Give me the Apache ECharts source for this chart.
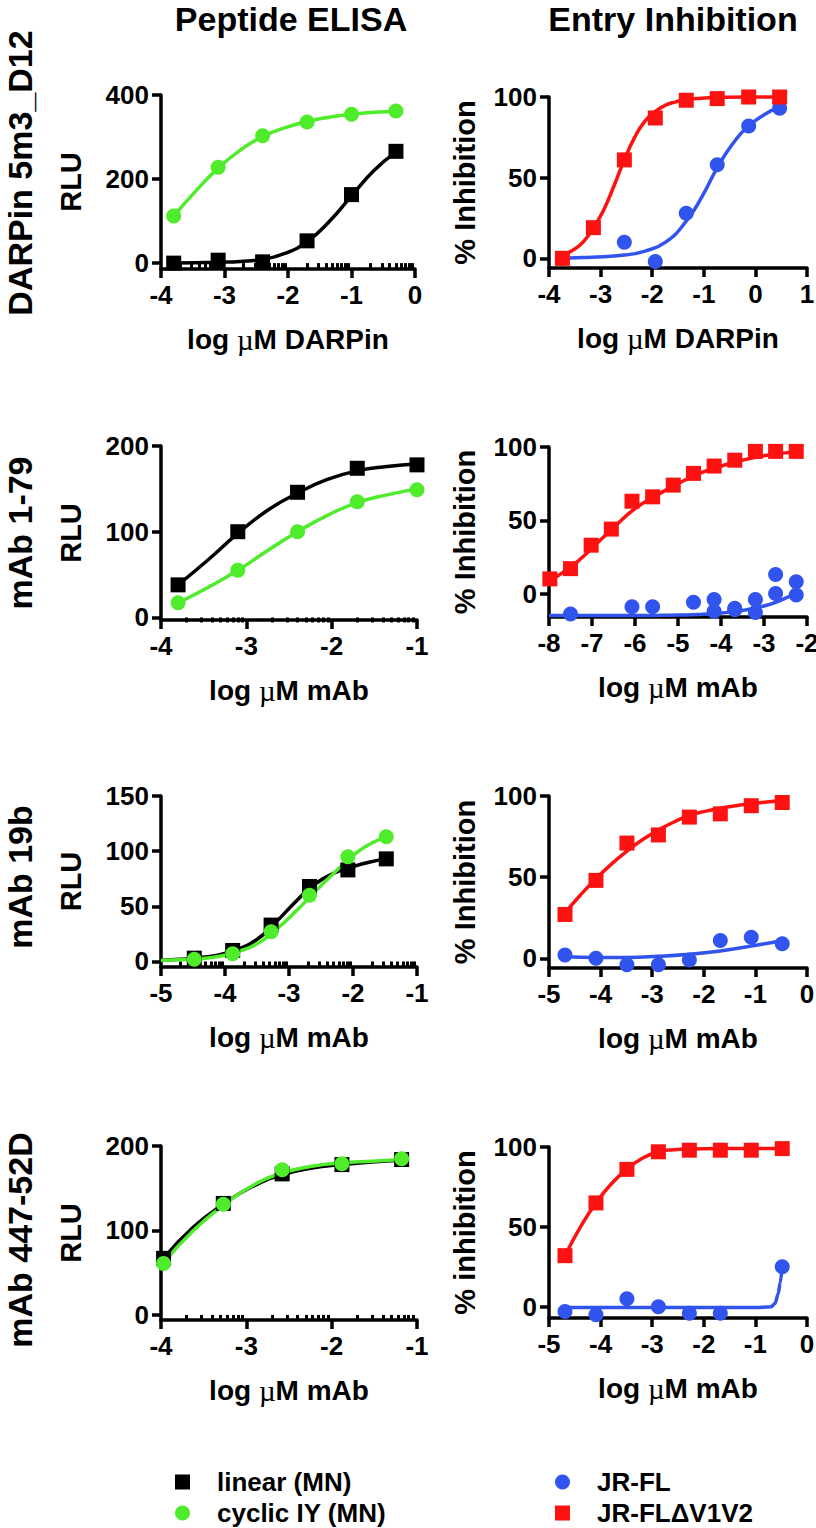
<!DOCTYPE html>
<html><head><meta charset="utf-8">
<script src="https://cdn.jsdelivr.net/npm/echarts@6/dist/echarts.min.js"></script>
<style>html,body{margin:0;padding:0;background:#fff}#c{width:816px;height:1528px}</style>
</head><body><div id="c"></div>
<script>
// ---------- DATA ----------
// Panel 1: DARPin 5m3_D12 – Peptide ELISA
const darpElisaX = [-3.8, -3.1, -2.4, -1.7, -1.0, -0.3];
const darpElisaLinear = [0, 7, 3, 53, 163, 266];
const darpElisaCyclic = [112, 228, 303, 336, 354, 362];
const darpElisaFitX = [-3.8, -3.45, -3.1, -2.75, -2.4, -2.05, -1.7, -1.35, -1.0, -0.65, -0.3];
const darpElisaLinearFit = [0, 1, 2, 4, 9, 23, 51, 99, 160, 220, 264];
const darpElisaCyclicFit = [112, 172, 226, 269, 301, 322, 337, 347, 354, 359, 361];
const darpElisaYTicks = [0, 200, 400];

// Panel 2: DARPin 5m3_D12 – Entry Inhibition
const darpEntryX = [-3.74, -3.14, -2.54, -1.94, -1.34, -0.74, -0.13, 0.47];
const darpEntryDV1V2 = [0, 19, 61, 87, 98, 99, 100, 100];
const darpEntryJRFLX = [-3.74, -2.54, -1.94, -1.34, -0.74, -0.13, 0.47];
const darpEntryJRFL = [0, 10, -2, 28, 58, 82, 93];
const darpEntryDV1V2FitX = [-3.74, -3.54, -3.34, -3.14, -2.94, -2.74, -2.54, -2.34, -2.14, -1.94, -1.74, -1.54, -1.34, -1.04, -0.74, -0.13, 0.47];
const darpEntryDV1V2Fit = [2, 5, 10, 19, 30, 45, 61, 75, 85, 91, 95, 97, 98.5, 99.3, 99.7, 100, 100];
const darpEntryJRFLFitX = [-3.74, -3.34, -2.94, -2.54, -2.14, -1.74, -1.34, -1.04, -0.74, -0.44, -0.13, 0.17, 0.47];
const darpEntryJRFLFit = [0, 0.5, 1, 2, 4.5, 10, 23, 38, 56, 71, 82, 89, 94];
const entryYTicks = [0, 50, 100];

// Panel 3: mAb 1-79 – Peptide ELISA
const mab179ElisaX = [-3.8, -3.1, -2.4, -1.7, -1.0];
const mab179ElisaLinear = [38, 100, 146, 174, 178];
const mab179ElisaCyclic = [17, 55, 100, 135, 149];
const mab179ElisaFitX = [-3.8, -3.45, -3.1, -2.75, -2.4, -2.05, -1.7, -1.35, -1.0];
const mab179ElisaLinearFit = [38, 67, 98, 125, 145, 161, 171, 176, 179];
const mab179ElisaCyclicFit = [17, 35, 55, 78, 100, 119, 134, 143, 150];
const mab179ElisaYTicks = [0, 100, 200];

// Panel 4: mAb 1-79 – Entry Inhibition
const mab179EntryX = [-7.98, -7.5, -7.02, -6.55, -6.07, -5.59, -5.11, -4.64, -4.16, -3.68, -3.2, -2.73, -2.25];
const mab179EntryDV1V2 = [10, 17, 33, 44, 63, 66, 74, 82, 87, 91, 97, 97, 97];
const mab179EntryJRFLX = [-7.5, -6.07, -5.59, -4.64, -4.16, -4.16, -3.68, -3.68, -3.2, -3.2, -2.73, -2.73, -2.25, -2.25];
const mab179EntryJRFL = [-14, -9, -9, -6, -4, -12, -10, -11, -4, -13, 13, 0, 8, -1];
const mab179EntryDV1V2FitX = [-7.98, -7.5, -7.0, -6.5, -6.0, -5.5, -5.0, -4.5, -4.0, -3.5, -3.0, -2.5, -2.25];
const mab179EntryDV1V2Fit = [9, 18, 31, 45, 58, 67, 75, 82, 87, 91, 94, 96, 97];
const mab179EntryJRFLFitX = [-8, -7.5, -7, -6.5, -6, -5.5, -5, -4.5, -4, -3.5, -3.0, -2.6, -2.25];
const mab179EntryJRFLFit = [-15, -15, -15, -15, -15, -14.9, -14.7, -14.3, -13.3, -11.5, -8.5, -4.5, 0.5];

// Panel 5: mAb 19b – Peptide ELISA
const mab19bElisaX = [-4.48, -3.88, -3.28, -2.68, -2.08, -1.48];
const mab19bElisaLinear = [3, 10, 33, 68, 83, 93];
const mab19bElisaCyclic = [2, 7, 27, 60, 95, 113];
const mab19bElisaFitX = [-5, -4.7, -4.4, -4.1, -3.8, -3.5, -3.2, -2.9, -2.6, -2.3, -2.0, -1.75, -1.48];
const mab19bElisaLinearFit = [1, 2, 3.5, 6, 11, 20, 36, 54, 70, 80, 86, 90, 93];
const mab19bElisaCyclicFit = [1, 1.5, 2.5, 4.5, 9, 16, 29, 45, 63, 80, 96, 106, 113];
const mab19bElisaYTicks = [0, 50, 100, 150];

// Panel 6: mAb 19b – Entry Inhibition
const mab19bEntryX = [-4.69, -4.09, -3.49, -2.88, -2.28, -1.68, -1.08, -0.48];
const mab19bEntryDV1V2 = [27, 48, 71, 76, 87, 89, 94, 96];
const mab19bEntryJRFL = [2, 0, -4, -4, -1, 11, 13, 9];
const mab19bEntryDV1V2FitX = [-4.69, -4.39, -4.09, -3.79, -3.49, -3.19, -2.88, -2.58, -2.28, -1.98, -1.68, -1.38, -1.08, -0.78, -0.48];
const mab19bEntryDV1V2Fit = [28, 39, 49, 58, 66, 73, 79, 84, 88, 90.5, 92.5, 94, 95.3, 96.3, 97];
const mab19bEntryJRFLFitX = [-4.69, -4.09, -3.49, -2.88, -2.28, -1.68, -1.08, -0.48];
const mab19bEntryJRFLFit = [1, 0.5, 0.5, 1.2, 2.5, 4.5, 7.5, 11];

// Panel 7: mAb 447-52D – Peptide ELISA
const mab447ElisaX = [-3.97, -3.27, -2.58, -1.88, -1.18];
const mab447ElisaLinear = [67, 132, 167, 178, 184];
const mab447ElisaCyclic = [61, 131, 172, 179, 185];
const mab447ElisaFitX = [-3.97, -3.62, -3.27, -2.93, -2.58, -2.23, -1.88, -1.53, -1.18];
const mab447ElisaLinearFit = [67, 104, 131, 152, 166, 174, 178, 181, 183];
const mab447ElisaCyclicFit = [62, 100, 130, 153, 168, 176, 180, 182, 184];
const mab447ElisaYTicks = [0, 100, 200];

// Panel 8: mAb 447-52D – Entry Inhibition
const mab447EntryX = [-4.69, -4.09, -3.49, -2.88, -2.28, -1.68, -1.08, -0.48];
const mab447EntryDV1V2 = [32, 65, 86, 97, 98, 98, 98, 99];
const mab447EntryJRFLX = [-4.69, -4.09, -3.49, -2.88, -2.28, -1.68, -0.48];
const mab447EntryJRFL = [-3, -5, 5, 0, -4, -4, 25];
const mab447EntryDV1V2FitX = [-4.69, -4.39, -4.09, -3.79, -3.49, -3.19, -2.88, -2.58, -2.28, -1.68, -1.08, -0.48];
const mab447EntryDV1V2Fit = [32, 50, 65, 77, 86, 93, 97, 98.3, 98.8, 99, 99, 99];
const mab447EntryJRFLFitX = [-4.69, -4.0, -3.0, -2.0, -1.0, -0.7, -0.62, -0.56, -0.52, -0.48];
const mab447EntryJRFLFit = [-0.5, -0.5, -0.5, -0.5, -0.5, 0, 2, 8, 15, 25];

// Labels
const columnTitles = ['Peptide ELISA', 'Entry Inhibition'];
const rowLabels = ['DARPin 5m3_D12', 'mAb 1-79', 'mAb 19b', 'mAb 447-52D'];
const seriesNames = ['linear (MN)', 'cyclic IY (MN)', 'JR-FL', 'JR-FL\u0394V1V2'];

// ---------- STYLE / LAYOUT ----------
const FONT = '"Liberation Sans", Arial, Helvetica, sans-serif';
const C = { linear: '#000000', cyclic: '#4fec2b', jrfl: '#3154ee', dv: '#fe1111' };
const STY = {
  linear: { name: seriesNames[0], color: C.linear, symbol: 'rect' },
  cyclic: { name: seriesNames[1], color: C.cyclic, symbol: 'circle' },
  jrfl:   { name: seriesNames[2], color: C.jrfl, symbol: 'circle' },
  dv:     { name: seriesNames[3], color: C.dv, symbol: 'rect' }
};
const LX = 161, LW = 256, RX = 549, RW = 258;

const panels = [
  { grid: { left: LX, top: 95, width: 254, height: 174 }, x: [-4, 0], y: [-14, 400], yTicks: darpElisaYTicks, minor: true,
    yName: 'RLU', xName: 'log {mu|\u00b5}M DARPin',
    sets: [[STY.linear, darpElisaX, darpElisaLinear, darpElisaFitX, darpElisaLinearFit],
           [STY.cyclic, darpElisaX, darpElisaCyclic, darpElisaFitX, darpElisaCyclicFit]] },
  { grid: { left: RX, top: 97, width: RW, height: 171 }, x: [-4, 1], y: [-6, 100], yTicks: entryYTicks, minor: false,
    yName: '% Inhibition', xName: 'log {mu|\u00b5}M DARPin',
    sets: [[STY.jrfl, darpEntryJRFLX, darpEntryJRFL, darpEntryJRFLFitX, darpEntryJRFLFit],
           [STY.dv, darpEntryX, darpEntryDV1V2, darpEntryDV1V2FitX, darpEntryDV1V2Fit]] },
  { grid: { left: LX, top: 446, width: LW, height: 174 }, x: [-4, -1], y: [-3, 200], yTicks: mab179ElisaYTicks, minor: true,
    yName: 'RLU', xName: 'log {mu|\u00b5}M mAb',
    sets: [[STY.linear, mab179ElisaX, mab179ElisaLinear, mab179ElisaFitX, mab179ElisaLinearFit],
           [STY.cyclic, mab179ElisaX, mab179ElisaCyclic, mab179ElisaFitX, mab179ElisaCyclicFit]] },
  { grid: { left: RX, top: 447, width: RW, height: 170 }, x: [-8, -2], y: [-16, 100], yTicks: entryYTicks, minor: false,
    yName: '% Inhibition', xName: 'log {mu|\u00b5}M mAb',
    sets: [[STY.jrfl, mab179EntryJRFLX, mab179EntryJRFL, mab179EntryJRFLFitX, mab179EntryJRFLFit],
           [STY.dv, mab179EntryX, mab179EntryDV1V2, mab179EntryDV1V2FitX, mab179EntryDV1V2Fit]] },
  { grid: { left: LX, top: 796, width: LW, height: 171 }, x: [-5, -1], y: [-5, 150], yTicks: mab19bElisaYTicks, minor: true,
    yName: 'RLU', xName: 'log {mu|\u00b5}M mAb',
    sets: [[STY.linear, mab19bElisaX, mab19bElisaLinear, mab19bElisaFitX, mab19bElisaLinearFit],
           [STY.cyclic, mab19bElisaX, mab19bElisaCyclic, mab19bElisaFitX, mab19bElisaCyclicFit]] },
  { grid: { left: RX, top: 796, width: RW, height: 172 }, x: [-5, 0], y: [-6, 100], yTicks: entryYTicks, minor: false,
    yName: '% Inhibition', xName: 'log {mu|\u00b5}M mAb',
    sets: [[STY.jrfl, mab19bEntryX, mab19bEntryJRFL, mab19bEntryJRFLFitX, mab19bEntryJRFLFit],
           [STY.dv, mab19bEntryX, mab19bEntryDV1V2, mab19bEntryDV1V2FitX, mab19bEntryDV1V2Fit]] },
  { grid: { left: LX, top: 1146, width: LW, height: 174 }, x: [-4, -1], y: [-6, 200], yTicks: mab447ElisaYTicks, minor: true,
    yName: 'RLU', xName: 'log {mu|\u00b5}M mAb',
    sets: [[STY.linear, mab447ElisaX, mab447ElisaLinear, mab447ElisaFitX, mab447ElisaLinearFit],
           [STY.cyclic, mab447ElisaX, mab447ElisaCyclic, mab447ElisaFitX, mab447ElisaCyclicFit]] },
  { grid: { left: RX, top: 1147, width: RW, height: 171 }, x: [-5, 0], y: [-7, 100], yTicks: entryYTicks, minor: false,
    yName: '% inhibition', xName: 'log {mu|\u00b5}M mAb',
    sets: [[STY.jrfl, mab447EntryJRFLX, mab447EntryJRFL, mab447EntryJRFLFitX, mab447EntryJRFLFit, true],
           [STY.dv, mab447EntryX, mab447EntryDV1V2, mab447EntryDV1V2FitX, mab447EntryDV1V2Fit]] }
];

// log-decade minor tick positions (axis decoration)
function minorTicks(a, b) {
  const out = [];
  for (let d = a; d < b; d++) for (let k = 2; k <= 9; k++) out.push(d + Math.log10(k));
  return out;
}
const zip = (xs, ys) => xs.map((x, i) => [x, ys[i]]);

const grids = [], xAxes = [], yAxes = [], series = [];
panels.forEach((p, i) => {
  grids.push(Object.assign({ outerBoundsMode: 'none', containLabel: false }, p.grid));
  const isLeft = p.grid.left === LX;
  const xi = xAxes.length;
  xAxes.push({
    type: 'value', gridIndex: i, position: 'bottom', min: p.x[0], max: p.x[1], interval: 1,
    axisLine: { show: true, onZero: false, lineStyle: { color: '#000', width: 3.5 } },
    axisTick: { show: true, length: 9, lineStyle: { color: '#000', width: 3.5 } },
    axisLabel: { show: true, fontSize: 26, fontWeight: 'bold', color: '#000', fontFamily: FONT, margin: 13 },
    splitLine: { show: false },
    name: p.xName, nameLocation: 'middle', nameGap: 56,
    nameTextStyle: { fontSize: 28, fontWeight: 'bold', color: '#000', fontFamily: FONT,
      rich: { mu: { fontSize: 29, fontWeight: 'normal', color: '#000', fontFamily: '"Liberation Serif", "DejaVu Serif", serif' } } }
  });
  if (p.minor) {
    xAxes.push({
      type: 'value', gridIndex: i, position: 'bottom', min: p.x[0], max: p.x[1],
      axisLine: { show: false }, axisLabel: { show: false }, splitLine: { show: false },
      axisTick: { show: true, length: 5, customValues: minorTicks(p.x[0], p.x[1]), lineStyle: { color: '#000', width: 3 } }
    });
  }
  const yi = yAxes.length;
  yAxes.push({
    type: 'value', gridIndex: i, position: 'left', min: p.y[0], max: p.y[1],
    axisLine: { show: true, onZero: false, lineStyle: { color: '#000', width: 3.5 } },
    axisTick: { show: true, length: 9, customValues: p.yTicks, lineStyle: { color: '#000', width: 3.5 } },
    axisLabel: { show: true, customValues: p.yTicks, fontSize: 26, fontWeight: 'bold', color: '#000', fontFamily: FONT, margin: 12 },
    splitLine: { show: false },
    name: p.yName, nameLocation: 'middle', nameGap: isLeft ? 76 : 70, nameRotate: 90,
    nameTextStyle: { fontSize: 29, fontWeight: 'bold', color: '#000', fontFamily: FONT }
  });
  p.sets.forEach(([st, xs, ys, fx, fy, mono]) => {
    series.push({
      type: 'line', name: st.name + ' fit', xAxisIndex: xi, yAxisIndex: yi,
      data: zip(fx, fy), showSymbol: false, symbol: 'none', smooth: mono ? 0.3 : 0.5,
      smoothMonotone: mono ? 'x' : null, clip: false,
      lineStyle: { color: st.color, width: 3.5 }, itemStyle: { color: st.color }, silent: true, z: 3
    });
    series.push({
      type: 'scatter', name: st.name, xAxisIndex: xi, yAxisIndex: yi,
      data: zip(xs, ys), symbol: st.symbol, symbolSize: 15, clip: false,
      itemStyle: { color: st.color, opacity: 1 }, z: 3
    });
  });
});

const txt = (text, x, y, size, rot) => ({
  type: 'text', x, y, rotation: rot || 0,
  style: { text, fontSize: size, fontWeight: 'bold', fontFamily: FONT, fill: '#000', align: 'center', verticalAlign: 'middle' }
});

const graphic = [
  txt(columnTitles[0], 291, 19, 34),
  txt(columnTitles[1], 673, 19, 34),
  txt(rowLabels[0], 20, 173, 34, Math.PI / 2),
  txt(rowLabels[1], 20, 533, 34, Math.PI / 2),
  txt(rowLabels[2], 20, 877, 34, Math.PI / 2),
  txt(rowLabels[3], 20, 1240, 34, Math.PI / 2)
];

const legendText = { fontSize: 26, fontWeight: 'bold', color: '#000', fontFamily: FONT, lineHeight: 28, padding: [0, 0, 0, 22] };
const oneLegend = (name, icon, left, top) => ({
  orient: 'horizontal', left, top, itemWidth: 15, itemHeight: 15, selectedMode: false,
  data: [{ name, icon }], textStyle: legendText, padding: 0
});
const option = {
  animation: false,
  backgroundColor: '#fff',
  grid: grids, xAxis: xAxes, yAxis: yAxes, series,
  graphic,
  legend: [
    oneLegend(seriesNames[0], 'rect', 175, 1468),
    oneLegend(seriesNames[1], 'circle', 175, 1499),
    oneLegend(seriesNames[2], 'circle', 555, 1468),
    oneLegend(seriesNames[3], 'rect', 555, 1499)
  ]
};
const chart = echarts.init(document.getElementById('c'), null, { renderer: 'svg', width: 816, height: 1528 });
chart.setOption(option);
</script></body></html>
